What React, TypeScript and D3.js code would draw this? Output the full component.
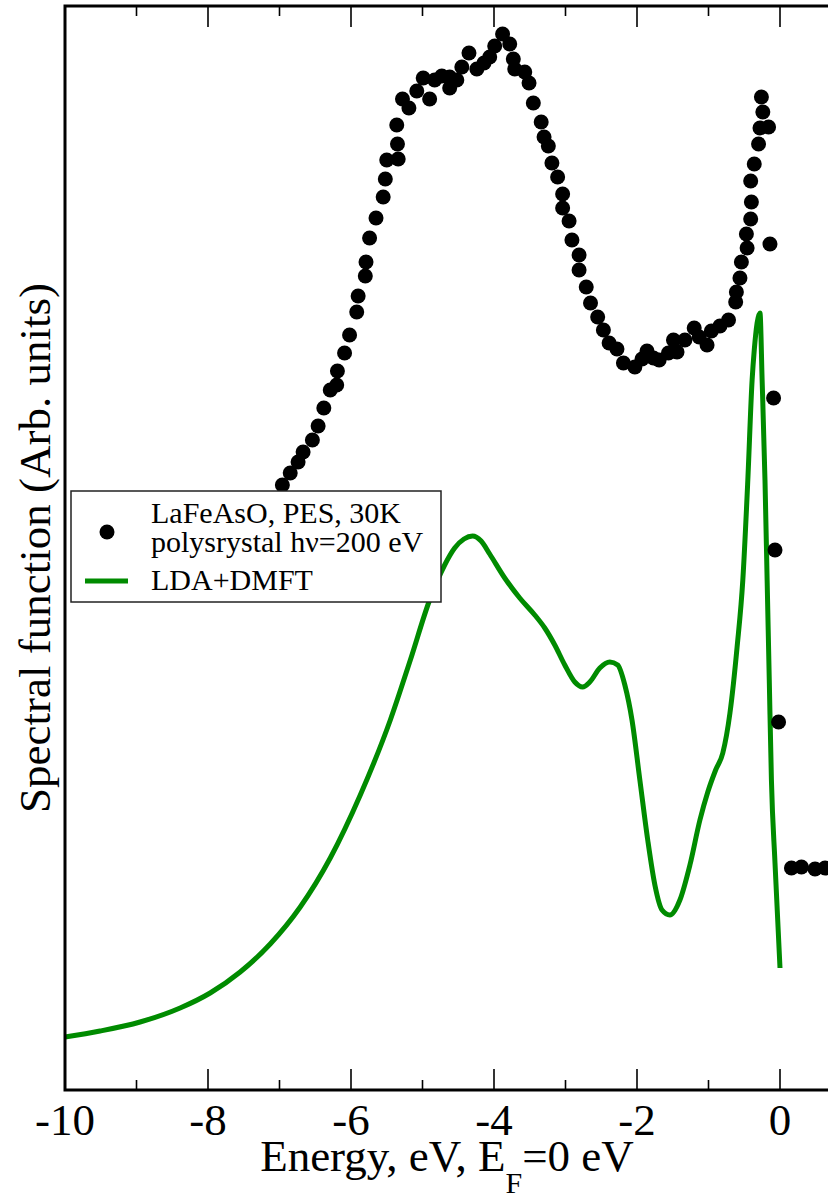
import React from "react"
import * as d3 from "d3"

const W = 828
const H = 1201

// photoemission points (energy eV, arb. intensity)
const pesEnergy = [
  -7.44, -7.33, -7.22, -7.1, -6.96, -6.85, -6.74, -6.67, -6.54, -6.46, -6.38, -6.29, -6.2, -6.19,
  -6.09, -6.02, -5.92, -5.9, -5.8, -5.79, -5.74, -5.65, -5.55, -5.52, -5.5, -5.34, -5.35, -5.36,
  -5.28, -5.19, -5.08, -4.99, -4.9, -4.83, -4.73, -4.62, -4.62, -4.52, -4.45, -4.35, -4.24, -4.14,
  -4.06, -3.99, -3.88, -3.78, -3.73, -3.71, -3.57, -3.51, -3.45, -3.34, -3.3, -3.24, -3.19, -3.11,
  -3.04, -3.04, -2.95, -2.91, -2.81, -2.81, -2.71, -2.65, -2.55, -2.47, -2.39, -2.28, -2.19, -2.03,
  -1.93, -1.86, -1.77, -1.69, -1.56, -1.49, -1.44, -1.33, -1.2, -1.13, -1.02, -0.96, -0.84, -0.72,
  -0.62, -0.61, -0.56, -0.54, -0.46, -0.47, -0.41, -0.4, -0.41, -0.36, -0.3, -0.28, -0.16, -0.24,
  -0.26, -0.14, -0.09, -0.07, -0.02, 0.16, 0.3, 0.49, 0.63, 0.77,
]
const pesIntensity = [
  5.3, 5.5, 5.7, 5.88, 6.05, 6.17, 6.28, 6.38, 6.5, 6.64, 6.82, 7.0, 7.05, 7.19,
  7.37, 7.55, 7.78, 7.94, 8.14, 8.28, 8.52, 8.72, 8.93, 9.11, 9.3, 9.31, 9.46, 9.65,
  9.91, 9.82, 9.99, 10.12, 9.91, 10.1, 10.14, 10.13, 10.02, 10.1, 10.23, 10.37, 10.21, 10.27,
  10.33, 10.44, 10.56, 10.46, 10.31, 10.21, 10.18, 10.07, 9.87, 9.68, 9.53, 9.44, 9.27, 9.13,
  8.96, 8.82, 8.69, 8.5, 8.35, 8.2, 8.03, 7.87, 7.73, 7.6, 7.47, 7.41, 7.27, 7.23,
  7.31, 7.39, 7.32, 7.3, 7.37, 7.5, 7.38, 7.5, 7.62, 7.53, 7.45, 7.59, 7.64, 7.7,
  7.88, 7.98, 8.12, 8.28, 8.42, 8.56, 8.71, 8.88, 9.09, 9.26, 9.46, 9.62, 9.63, 9.78,
  9.93, 8.46, 6.92, 5.4, 3.68, 2.22, 2.23, 2.21, 2.22, 2.22,
]

// LDA+DMFT spectral function
const dmftEnergy = [
  -10.0, -9.51, -8.95, -8.39, -7.97, -7.55, -7.13, -6.71, -6.29, -5.87, -5.45, -5.17, -4.9, -4.69,
  -4.55, -4.42, -4.3, -4.18, -4.06, -3.85, -3.64, -3.43, -3.29, -3.15, -3.01, -2.87, -2.76, -2.66, -2.52,
  -2.38, -2.27, -2.17, -2.07, -1.96, -1.85, -1.75, -1.65, -1.54, -1.4, -1.26, -1.12, -1.01, -0.9,
  -0.8, -0.7, -0.6, -0.52, -0.45, -0.39, -0.36, -0.28, -0.25, -0.21, -0.18, -0.15, -0.12, -0.07, 0.0,
]
const dmftIntensity = [
  0.53, 0.59, 0.68, 0.82, 0.97, 1.18, 1.46, 1.83, 2.32, 2.95, 3.7, 4.3, 4.9, 5.25,
  5.42, 5.51, 5.54, 5.49, 5.36, 5.12, 4.92, 4.75, 4.62, 4.45, 4.25, 4.08, 4.03, 4.08, 4.22,
  4.28, 4.25, 4.05, 3.7, 3.1, 2.5, 2.05, 1.8, 1.75, 1.9, 2.25, 2.7, 2.98, 3.2,
  3.37, 3.77, 4.43, 5.1, 6.1, 7.1, 7.4, 7.77, 7.1, 6.1, 5.1, 4.1, 3.1, 2.27, 1.22,
]

const xTicks = [-10, -9, -8, -7, -6, -5, -4, -3, -2, -1, 0]
const xLabels = ["-10", "-8", "-6", "-4", "-2", "0"]
const legendLabels = ["LaFeAsO, PES, 30K", "polysrystal h\u03bd=200 eV", "LDA+DMFT"]

const GREEN = "#008b00"

const left = 65
const top = 6
const bottom = 1090

export default function App() {
  const x = d3.scaleLinear().domain([-10, 0.75]).range([left, left + 10.75 * 71.5])
  const y = d3.scaleLinear().domain([0, 10.84]).range([bottom, top])
  const right = x.range()[1]

  const line = d3
    .line<number>()
    .x((d, i) => x(dmftEnergy[i]))
    .y((d) => y(d))
    .curve(d3.curveMonotoneX)

  const fs = (size: number) => ({ fontFamily: "'Liberation Serif', monospace", fontSize: `${size}px` })

  return (
    <svg width={W} height={H} fontFamily="Liberation Serif" style={{ position: "absolute", left: 0, top: 0 }}>
      <path d={line(dmftIntensity) || ""} fill="none" stroke={GREEN} strokeWidth={5} />

      <g>
        {pesIntensity.map((d, i) => (
          <circle key={i} cx={x(pesEnergy[i])} cy={y(d)} r={7.5} fill="#000" />
        ))}
      </g>

      {/* frame */}
      <path
        d={`M${right + 5},${top}H${left}V${bottom}H${right + 5}`}
        fill="none"
        stroke="#000"
        strokeWidth={3}
      />
      <g stroke="#000" strokeWidth={1.6}>
        {xTicks.map((t) => {
          const len = t % 2 === 0 ? 21 : 10
          return (
            <g key={t}>
              <line x1={x(t)} x2={x(t)} y1={bottom} y2={bottom - len} />
              <line x1={x(t)} x2={x(t)} y1={top} y2={top + len} />
            </g>
          )
        })}
      </g>

      {xLabels.map((d) => (
        <text key={d} x={x(+d)} y={1135} textAnchor="middle" style={fs(45)}>
          {d}
        </text>
      ))}

      <text x={447} y={1171} textAnchor="middle" style={fs(45)}>
        <tspan>Energy, eV, E</tspan>
        <tspan dy={22} style={{ fontSize: "30px" }}>
          F
        </tspan>
        <tspan dy={-22}>=0 eV</tspan>
      </text>

      <text
        transform={`translate(50,${(top + bottom) / 2}) rotate(-90)`}
        textAnchor="middle"
        style={fs(45)}
      >
        Spectral function (Arb. units)
      </text>

      {/* legend */}
      <g>
        <rect x={71} y={491} width={370} height={111} fill="#fff" stroke="#222" strokeWidth={1.5} />
        <circle cx={107} cy={532} r={7.5} fill="#000" />
        <line x1={85} x2={128} y1={581} y2={581} stroke={GREEN} strokeWidth={5} />
        {legendLabels.map((d, i) => (
          <text key={d} x={151} y={[523, 552, 590][i]} style={fs(30)}>
            {d}
          </text>
        ))}
      </g>
    </svg>
  )
}
